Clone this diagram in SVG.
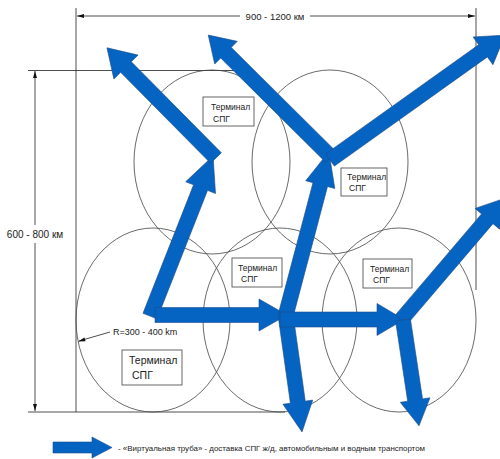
<svg xmlns="http://www.w3.org/2000/svg" width="500" height="459" viewBox="0 0 500 459">
<style>
.dim{stroke:#222;stroke-width:0.8;fill:none}
.ell{fill:none;stroke:#444;stroke-width:0.8}
.box{fill:#fff;stroke:#555;stroke-width:0.9}
.t{font-family:"Liberation Sans",Arial,sans-serif;fill:#222}
.arr{fill:#0563C1;stroke:#1d4e8c;stroke-width:0.6;stroke-linejoin:miter}
.ah{fill:#111}
</style>
<rect width="500" height="459" fill="#fff"/>
<g id="dimensions">
  <line class="dim" x1="76" y1="8" x2="76" y2="412"/>
  <line class="dim" x1="476" y1="8" x2="476" y2="290"/>
  <line class="dim" x1="77" y1="16" x2="240" y2="16"/>
  <line class="dim" x1="310" y1="16" x2="475" y2="16"/>
  <polygon class="ah" points="77,16 84,14 84,18"/>
  <polygon class="ah" points="475,16 468,14 468,18"/>
  <text class="t" x="275" y="19.5" font-size="9.5" text-anchor="middle">900 - 1200 км</text>
  <line class="dim" x1="28" y1="70.5" x2="250" y2="70.5"/>
  <line class="dim" x1="28" y1="412" x2="285" y2="412"/>
  <line class="dim" x1="35" y1="71" x2="35" y2="225"/>
  <line class="dim" x1="35" y1="243" x2="35" y2="411"/>
  <polygon class="ah" points="35,71 33,78 37,78"/>
  <polygon class="ah" points="35,411 33,404 37,404"/>
  <text class="t" x="35" y="237.5" font-size="10" text-anchor="middle">600 - 800 км</text>
</g>
<g id="zones">
  <ellipse class="ell" cx="212" cy="162" rx="78" ry="92"/>
  <ellipse class="ell" cx="330" cy="162" rx="78" ry="92"/>
  <ellipse class="ell" cx="153" cy="320" rx="77" ry="92"/>
  <ellipse class="ell" cx="280" cy="320" rx="77" ry="92"/>
  <ellipse class="ell" cx="399" cy="320" rx="77" ry="92"/>
</g>
<g id="radius">
  <line class="dim" x1="79" y1="341" x2="110" y2="332"/>
  <polygon class="ah" points="78,341.5 84.5,337.5 85.5,341.3"/>
  <text class="t" x="113" y="335" font-size="9">R=300 - 400 km</text>
</g>
<g id="terminal-1">
  <rect class="box" x="203" y="97" width="51" height="29"/>
  <text class="t" x="211" y="110" font-size="8.5">Терминал</text>
  <text class="t" x="213" y="121.5" font-size="8.5">СПГ</text>
</g>
<g id="terminal-2">
  <rect class="box" x="341" y="168" width="46" height="28"/>
  <text class="t" x="347" y="179.5" font-size="8.5">Терминал</text>
  <text class="t" x="349" y="191" font-size="8.5">СПГ</text>
</g>
<g id="terminal-3">
  <rect class="box" x="232" y="258" width="50" height="29"/>
  <text class="t" x="238" y="270.5" font-size="8.5">Терминал</text>
  <text class="t" x="241" y="282" font-size="8.5">СПГ</text>
</g>
<g id="terminal-4">
  <rect class="box" x="363" y="259" width="49" height="29"/>
  <text class="t" x="370" y="271.5" font-size="8.5">Терминал</text>
  <text class="t" x="373" y="283" font-size="8.5">СПГ</text>
</g>
<g id="terminal-5">
  <rect class="box" x="122" y="350" width="60" height="35"/>
  <text class="t" x="129" y="364" font-size="10.5">Терминал</text>
  <text class="t" x="132" y="378.5" font-size="10.5">СПГ</text>
</g>
<g id="connectors">
  <polygon class="arr" transform="translate(150,316) rotate(-68.5)" points="0,-7.5 138,-7.5 138,-16 172,0 138,16 138,7.5 0,7.5"/>
  <polygon class="arr" transform="translate(216,158) rotate(-134.7)" points="0,-7.5 128,-7.5 128,-17 155,0 128,17 128,7.5 0,7.5"/>
  <polygon class="arr" transform="translate(155,315)" points="0,-7.5 104,-7.5 104,-16 132,0 104,16 104,7.5 0,7.5"/>
  <polygon class="arr" transform="translate(286,318) rotate(82)" points="0,-7.5 85,-7.5 85,-15 115,0 85,15 85,7.5 0,7.5"/>
  <polygon class="arr" transform="translate(285,318) rotate(-75.2)" points="0,-7.5 138,-7.5 138,-15 172,0 138,15 138,7.5 0,7.5"/>
  <polygon class="arr" transform="translate(280,319.5)" points="0,-7.5 97,-7.5 97,-16 124,0 97,16 97,7.5 0,7.5"/>
  <polygon class="arr" transform="translate(331,157) rotate(-135.2)" points="0,-7.5 148,-7.5 148,-16 173,0 148,16 148,7.5 0,7.5"/>
  <polygon class="arr" transform="translate(330,160) rotate(-35.5)" points="0,-7.5 188,-7.5 188,-17 215,0 188,17 188,7.5 0,7.5"/>
  <polygon class="arr" transform="translate(401,320) rotate(-49.55)" points="0,-7.5 133,-7.5 133,-16 160,0 133,16 133,7.5 0,7.5"/>
  <polygon class="arr" transform="translate(403,320) rotate(81.4)" points="0,-7.5 81,-7.5 81,-15 107,0 81,15 81,7.5 0,7.5"/>
</g>
<g id="legend">
  <polygon class="arr" points="53,442 92,442 92,437 112,447.5 92,458 92,453 53,453"/>
  <text class="t" x="118" y="450.5" font-size="8" textLength="307" lengthAdjust="spacingAndGlyphs">- «Виртуальная труба» - доставка СПГ ж/д, автомобильным и водным транспортом</text>
</g>
</svg>
